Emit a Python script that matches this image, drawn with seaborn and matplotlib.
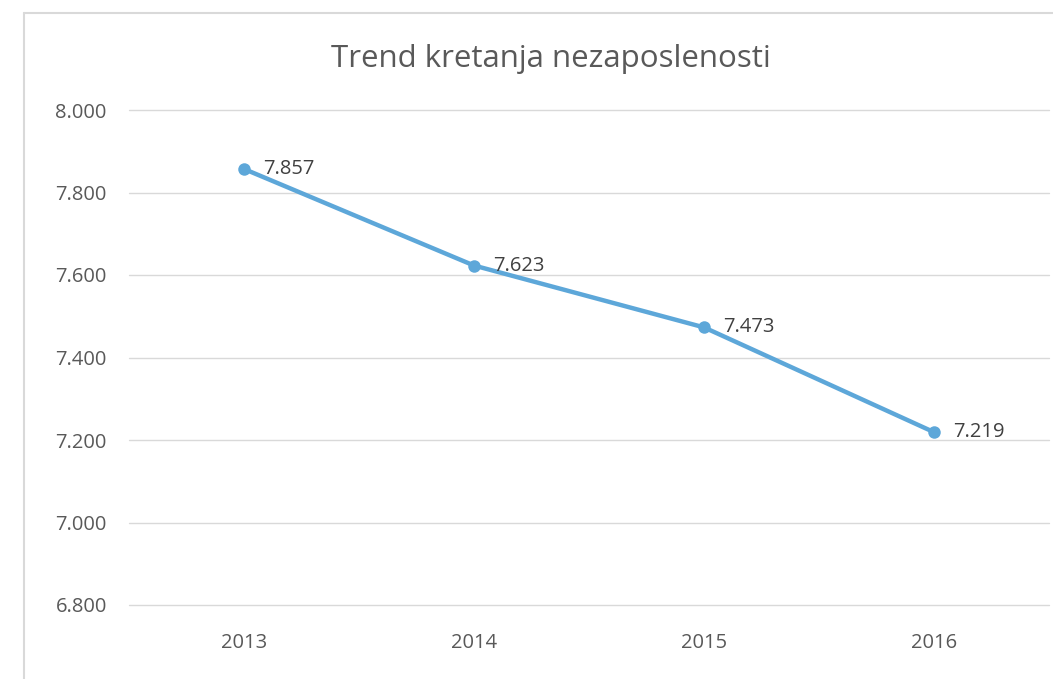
import matplotlib
matplotlib.use("Agg")
import matplotlib.pyplot as plt
import seaborn as sns
import pandas as pd
from matplotlib.lines import Line2D
from matplotlib.ticker import FuncFormatter

years = ["2013", "2014", "2015", "2016"]
values = [7857, 7623, 7473, 7219]
title = "Trend kretanja nezaposlenosti"

sns.set_theme(style="white")
plt.rcParams['font.family'] = ['Open Sans', 'DejaVu Sans']

df = pd.DataFrame({"year": years, "value": values})

fig = plt.figure(figsize=(10.53, 6.79), dpi=100)
ax = fig.add_axes([129/1053, 1-605/679, 920/1053, 495/679])

color = "#5DA7D9"
sns.lineplot(data=df, x="year", y="value", ax=ax, color=color, linewidth=3.2,
             marker="o", markersize=9, markeredgewidth=0, sort=False)

ax.set_xlim(-0.5, 3.5)
ax.set_ylim(6800, 8000)
ax.set_yticks([6800, 7000, 7200, 7400, 7600, 7800, 8000])
ax.yaxis.set_major_formatter(FuncFormatter(lambda v, p: f"{v/1000:.3f}"))
ax.grid(axis="y", color="#d9d9d9", linewidth=1)
ax.set_axisbelow(True)
for gl in ax.get_ygridlines():
    gl.set_clip_on(False)
for s in ax.spines.values():
    s.set_visible(False)
ax.set_xlabel("")
ax.set_ylabel("")
ax.tick_params(axis="both", length=0, labelsize=14.5, colors="#595959")
ax.tick_params(axis="y", pad=16)
ax.tick_params(axis="x", pad=20)

for i, v in enumerate(values):
    ax.annotate(f"{v/1000:.3f}", (i, v), xytext=(14, 0), textcoords="offset points",
                ha="left", va="center", fontsize=14.5, color="#404040")

fig.text(551/1053, 1-59/679, title, ha="center", va="center", fontsize=22.5, color="#595959")

fig.add_artist(Line2D([24/1053, 24/1053], [0, 1-13/679], transform=fig.transFigure,
                      color="#d9d9d9", linewidth=1.5))
fig.add_artist(Line2D([24/1053, 1], [1-13/679, 1-13/679], transform=fig.transFigure,
                      color="#d9d9d9", linewidth=1.5))

fig.savefig("out.png", dpi=100, facecolor="white")
